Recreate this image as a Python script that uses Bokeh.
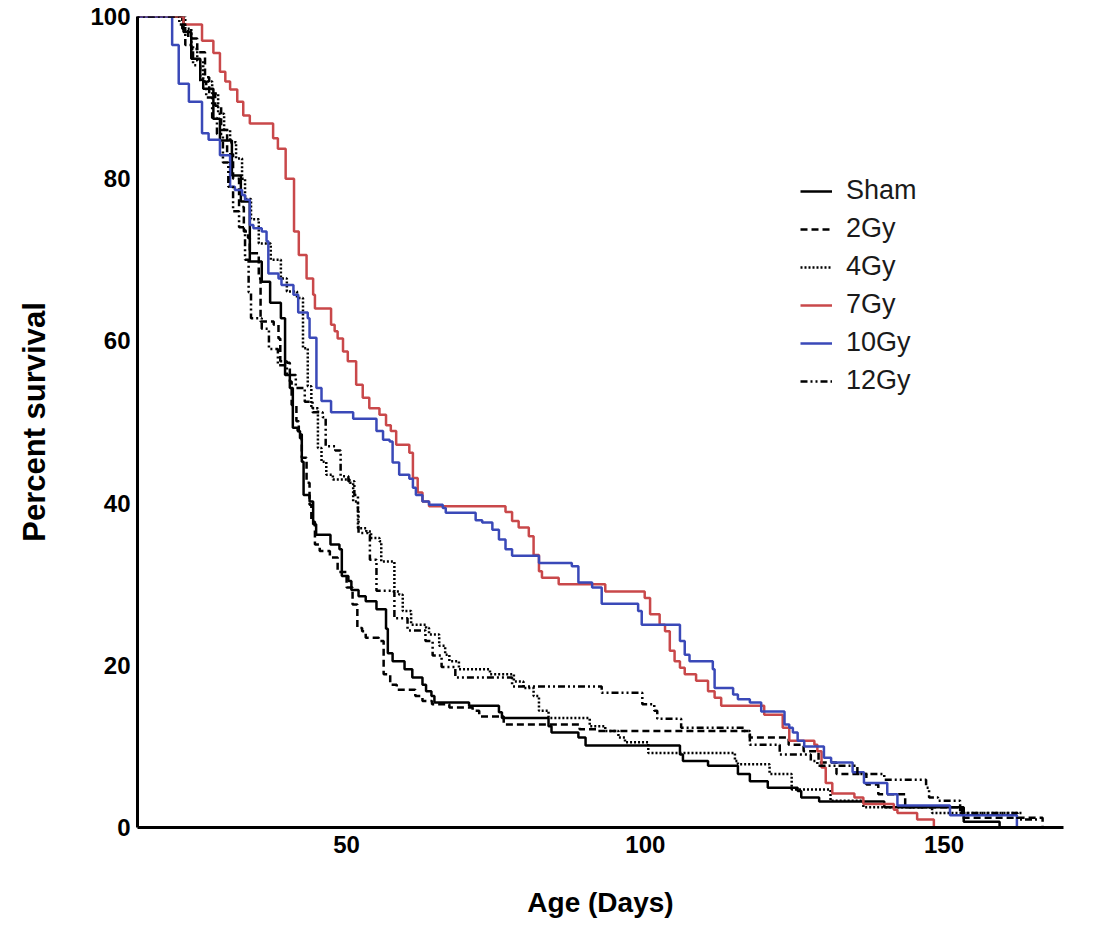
from bokeh.plotting import figure
from bokeh.models import Range1d, Legend, LegendItem, FixedTicker
from bokeh.embed import file_html
from bokeh.resources import INLINE

# ---- data (Kaplan-Meier steps: day of event, percent surviving after it) ----
sham_t = [0, 22.7, 24.0, 25.5, 26.0, 27.7, 28.8, 30.8, 32.3, 33.8, 35.8, 37.2, 39.0, 39.7, 40.5, 41.0,
          41.8, 42.2, 42.5, 42.8, 43.8, 44.4, 44.9, 47.3, 48.8, 49.2, 50.3, 50.8, 52.0, 53.2, 55.0, 56.6,
          56.9, 57.7, 59.7, 61.0, 62.7, 63.3, 64.2, 64.7, 70.5, 75.5, 76.0, 83.8, 84.3, 88.8, 90.0, 105.8,
          106.3, 110.5, 115.5, 117.5, 120.5, 125.5, 126.1, 129.1, 140.0, 153.3, 159.3]
sham_s = [100, 98.1, 94.8, 92.2, 91.1, 87.4, 84.7, 80.4, 77.2, 69.8, 67.3, 64.7, 62.8, 55.8, 54.2, 49.3,
          48.9, 48.0, 45.1, 41.0, 40.2, 37.4, 36.1, 34.9, 34.3, 31.0, 30.4, 29.3, 28.5, 27.9, 26.9, 24.5,
          21.5, 20.5, 19.5, 18.5, 17.6, 16.8, 16.2, 15.4, 15.0, 14.2, 13.5, 12.5, 11.7, 11.1, 10.1, 9.0,
          8.2, 7.6, 6.6, 5.7, 4.9, 4.5, 3.7, 3.2, 2.5, 0.7, 0]

gy2_t = [0, 22.5, 23.5, 25.0, 26.3, 27.0, 28.0, 29.0, 30.0, 31.0, 32.0, 32.8, 33.5, 33.8, 35.3, 35.6,
         37.8, 38.6, 38.9, 40.0, 40.5, 40.8, 41.6, 42.0, 42.5, 43.3, 43.8, 44.1, 44.7, 45.5, 47.2, 48.5,
         50.0, 51.0, 51.8, 52.6, 53.2, 55.4, 56.2, 57.3, 58.4, 61.5, 62.7, 64.3, 67.2, 71.1, 72.2, 76.3,
         89.0, 92.0, 117.5, 124.0, 126.5, 129.0, 132.0, 137.0, 139.0, 143.5, 153.0, 166.5]
gy2_s = [100, 98.5, 97.3, 95.6, 92.5, 90.5, 89.0, 86.0, 83.0, 80.0, 76.5, 73.5, 72.7, 70.8, 67.7, 62.4,
         62.0, 60.3, 57.5, 57.3, 55.0, 52.1, 50.1, 48.5, 45.6, 42.5, 39.8, 37.7, 34.9, 34.1, 33.3, 31.5,
         29.6, 27.5, 24.6, 24.2, 23.4, 23.0, 18.9, 17.6, 17.0, 16.2, 15.6, 15.2, 14.8, 14.4, 13.7, 12.7,
         12.1, 11.9, 11.1, 10.2, 9.4, 8.0, 6.6, 5.3, 4.1, 2.5, 1.2, 0]

gy4_t = [0, 23.0, 24.0, 25.0, 26.0, 27.5, 28.5, 29.5, 30.5, 31.5, 32.5, 33.0, 34.0, 35.3, 37.3, 39.0,
         40.0, 41.7, 42.7, 43.5, 44.1, 45.2, 45.8, 46.6, 47.7, 50.5, 51.1, 51.9, 53.3, 54.1, 55.5, 55.8,
         58.0, 58.8, 59.4, 60.8, 63.3, 63.8, 65.5, 66.5, 67.2, 68.8, 74.0, 78.0, 79.6, 81.3, 82.2, 83.8,
         90.7, 93.3, 95.5, 96.6, 100.5, 115.0, 115.5, 120.8, 124.5, 131.0, 136.5, 148.0, 163.0]
gy4_s = [100, 98.5, 96.0, 94.5, 92.0, 90.5, 88.0, 86.0, 84.5, 82.5, 80.0, 77.5, 75.0, 72.0, 70.0, 67.7,
         66.1, 65.3, 59.1, 54.4, 51.7, 46.8, 45.1, 43.5, 42.9, 42.5, 40.2, 36.9, 36.5, 35.7, 35.3, 32.8,
         29.1, 28.7, 26.7, 25.0, 24.6, 23.8, 22.4, 21.3, 20.5, 19.5, 18.9, 18.0, 17.2, 16.2, 14.4, 13.5,
         12.5, 11.9, 11.1, 10.5, 9.2, 8.2, 7.8, 6.6, 4.7, 3.3, 2.5, 1.8, 1.8]

gy7_t = [0, 22.7, 25.8, 27.7, 28.8, 29.7, 30.5, 31.7, 32.7, 33.8, 37.7, 38.5, 39.8, 41.2, 42.0, 43.3,
         44.4, 44.7, 47.4, 48.0, 48.5, 49.4, 50.2, 51.6, 52.7, 53.8, 55.5, 56.6, 57.4, 58.3, 60.5, 61.1,
         61.9, 62.7, 63.8, 76.6, 77.7, 78.8, 80.5, 81.3, 82.2, 82.7, 85.5, 93.3, 99.9, 100.8, 102.4, 103.3,
         104.1, 104.9, 105.8, 106.6, 108.5, 110.5, 111.6, 112.7, 119.9, 123.0, 124.1, 128.3, 128.8, 129.5,
         130.2, 131.3, 135.0, 136.5, 141.6, 142.2, 145.5, 148.3]
gy7_s = [100, 99.0, 97.0, 95.5, 93.2, 92.0, 91.0, 89.5, 87.8, 86.8, 85.0, 83.7, 80.0, 73.5, 70.6, 67.7,
         65.7, 64.0, 62.0, 61.2, 60.3, 58.7, 57.5, 54.6, 53.0, 51.7, 50.9, 49.6, 48.9, 47.2, 46.2, 43.1,
         41.3, 40.2, 39.6, 38.9, 37.8, 37.0, 35.9, 33.6, 31.6, 30.8, 30.0, 29.1, 28.3, 26.3, 25.0, 24.2,
         21.8, 20.5, 19.7, 18.9, 18.1, 16.8, 16.0, 15.0, 13.9, 12.3, 10.7, 10.2, 9.4, 7.4,
         5.5, 4.2, 3.7, 2.9, 2.2, 1.8, 1.0, 0]

gy10_t = [0, 20.8, 21.9, 23.6, 25.8, 26.9, 28.8, 30.5, 31.3, 32.5, 33.0, 33.8, 34.4, 35.8, 36.6, 36.9,
          38.6, 39.1, 41.1, 41.9, 43.5, 43.8, 44.95, 45.8, 47.4, 51.1, 55.0, 56.1, 57.2, 57.7, 58.8, 60.5,
          61.1, 61.6, 62.7, 63.8, 66.1, 66.6, 71.6, 72.7, 74.4, 75.5, 76.6, 77.7, 82.2, 87.7, 88.8, 91.1,
          92.7, 98.8, 99.4, 105.8, 106.6, 107.4, 111.3, 111.6, 114.7, 115.5, 117.5, 119.4, 123.3, 124.1,
          124.7, 125.5, 126.6, 129.9, 131.1, 134.7, 136.6, 140.5, 142.2, 151.0, 162.2]
gy10_s = [100, 96.5, 91.7, 89.5, 85.6, 84.8, 82.9, 79.0, 78.6, 78.0, 77.4, 74.3, 73.9, 73.5, 72.3, 68.3,
          67.7, 66.9, 65.7, 63.5, 62.8, 60.4, 54.2, 52.6, 51.2, 50.4, 48.9, 47.8, 47.6, 45.0, 43.5, 43.0,
          41.9, 41.0, 40.2, 39.8, 39.4, 38.8, 37.9, 37.6, 36.7, 35.5, 34.3, 33.5, 32.6, 32.2, 30.2, 29.6,
          27.6, 26.7, 25.0, 23.0, 21.3, 20.5, 19.5, 17.2, 16.4, 15.8, 15.4, 14.3, 12.7, 12.3,
          11.7, 10.7, 10.0, 8.6, 8.0, 6.8, 5.5, 4.1, 2.7, 1.5, 0]

gy12_t = [0, 22.0, 23.0, 24.3, 25.5, 26.5, 27.5, 28.3, 29.3, 30.2, 31.0, 32.0, 33.0, 33.6, 34.0, 35.8,
          37.0, 38.5, 40.0, 41.5, 43.0, 44.3, 46.0, 46.5, 48.1, 49.0, 50.3, 51.3, 51.9, 52.0, 53.6, 53.9,
          55.0, 57.9, 58.0, 60.2, 63.2, 64.4, 65.9, 68.2, 77.7, 92.7, 99.5, 101.5, 102.0, 106.0, 116.5,
          117.5, 122.5, 127.7, 128.8, 135.5, 140.0, 147.0, 147.5, 149.0, 152.7, 162.3, 165.8]
gy12_s = [100, 99.0, 96.5, 94.0, 92.0, 90.0, 87.5, 85.5, 82.0, 79.0, 76.0, 74.0, 70.0, 66.0, 62.8, 61.5,
          59.0, 57.0, 55.8, 54.2, 52.5, 51.2, 50.6, 47.0, 46.5, 43.3, 42.7, 41.0, 39.0, 36.3, 36.0, 33.0,
          29.2, 29.0, 25.8, 24.3, 23.0, 21.2, 19.8, 18.5, 17.4, 16.6, 15.2, 14.4, 13.4, 12.3, 11.9,
          10.2, 9.0, 8.2, 7.6, 6.6, 5.9, 4.9, 3.7, 3.3, 1.8, 1.0, 1.0]

labels = ["Sham", "2Gy", "4Gy", "7Gy", "10Gy", "12Gy"]
x_ticks = [50, 100, 150]
y_ticks = [0, 20, 40, 60, 80, 100]

FONT = "Liberation Sans"

p = figure(width=1100, height=921, x_range=Range1d(15, 170), y_range=Range1d(0, 100),
           output_backend="svg", toolbar_location=None,
           min_border_left=137, min_border_right=37, min_border_top=16, min_border_bottom=94)
p.xgrid.visible = False
p.ygrid.visible = False
p.outline_line_color = None
p.background_fill_color = "white"
p.border_fill_color = "white"

for ax in (p.xaxis[0], p.yaxis[0]):
    ax.axis_line_width = 3
    ax.axis_line_color = "black"
    ax.major_tick_out = 0
    ax.major_tick_in = 0
    ax.minor_tick_out = 0
    ax.minor_tick_in = 0
    ax.major_label_text_font = FONT
    ax.major_label_text_font_style = "bold"
    ax.major_label_text_font_size = "24px"
    ax.major_label_text_color = "black"
    ax.axis_label_text_font = FONT
    ax.axis_label_text_font_style = "bold"
    ax.axis_label_text_color = "black"

p.xaxis.axis_label_text_font_size = "28px"
p.yaxis.axis_label_text_font_size = "31px"
p.xaxis.ticker = FixedTicker(ticks=x_ticks)
p.yaxis.ticker = FixedTicker(ticks=y_ticks)
p.xaxis.axis_label = "Age (Days)"
p.yaxis.axis_label = "Percent survival"
p.xaxis.major_label_standoff = 8
p.yaxis.major_label_standoff = 7
p.xaxis.axis_label_standoff = 31
p.yaxis.axis_label_standoff = 35

styles = [
    (sham_t, sham_s, "black", "solid"),
    (gy2_t, gy2_s, "black", "7 4"),
    (gy4_t, gy4_s, "black", "2 2"),
    (gy7_t, gy7_s, "#c9484a", "solid"),
    (gy10_t, gy10_s, "#3a49b8", "solid"),
    (gy12_t, gy12_s, "black", "7 3 2 3 2 3"),
]

renderers = []
for t, s, c, d in styles:
    r = p.step(x=t, y=s, mode="after", line_color=c, line_width=2.5, line_dash=d)
    renderers.append(r)

legend = Legend(items=[LegendItem(label=l, renderers=[r]) for l, r in zip(labels, renderers)],
                location=(663, 431), orientation="vertical",
                label_text_font=FONT, label_text_font_size="27px", label_text_color="#1a1a1a",
                glyph_width=32, glyph_height=24, label_standoff=14, spacing=7, padding=4,
                border_line_color=None, background_fill_alpha=0)
p.add_layout(legend, "center")

open("out.html", "w").write(file_html(p, INLINE))
